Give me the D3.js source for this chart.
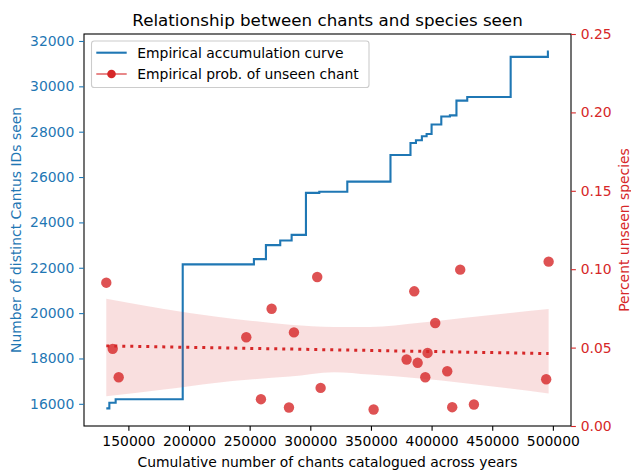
<!DOCTYPE html>
<html>
<head>
<meta charset="utf-8">
<script src="https://cdn.jsdelivr.net/npm/d3@7"></script>
<style>
  html, body { margin: 0; padding: 0; background: #fff; }
  svg { display: block; font-family: "DejaVu Sans", sans-serif; }
</style>
</head>
<body>
<svg id="chart" width="631" height="470"></svg>
<script>
// ---- Data ----
// Empirical accumulation curve (step function: value holds from x until next x)
const stepX = [131800, 134300, 139500, 194800, 253500, 263400, 275200, 284600, 296400, 307400,
               330500, 366100, 382600, 387100, 392000, 395900, 400000, 408000, 415100, 420500,
               429400, 465200, 495900, 496700];
const stepY = [15800, 16050, 16200, 22150, 22380, 23000, 23200, 23450, 25300, 25350,
               25800, 26970, 27500, 27620, 27800, 27900, 28320, 28670, 28720, 29370,
               29530, 31300, 31530, 31530];

// Empirical probability of an unseen chant (scatter)
const probX = [131780, 137060, 142000, 247200, 259300, 268100, 282400, 286500, 305700, 308500,
               352200, 379400, 385700, 388500, 394800, 396700, 403000, 412900, 417000, 423600,
               434900, 494500, 496500];
const probY = [0.0914, 0.0492, 0.0311, 0.0566, 0.0171, 0.0748, 0.0118, 0.0597, 0.0950, 0.0243,
               0.0105, 0.0424, 0.0859, 0.0403, 0.0311, 0.0466, 0.0657, 0.0349, 0.0120, 0.0997,
               0.0137, 0.0298, 0.1048];

// Regression line and confidence band
const fitX = [131780, 496500];
const fitY = [0.0511, 0.0462];
const ciX    = [131780, 179350, 221390, 250250, 283220, 319500, 349170, 390380, 425830, 496500];
const ciHigh = [0.0812, 0.0746, 0.0699, 0.0672, 0.0646, 0.0632, 0.0632, 0.0659, 0.0689, 0.0746];
const ciLow  = [0.0190, 0.0232, 0.0275, 0.0296, 0.0315, 0.0343, 0.0328, 0.0303, 0.0275, 0.0207];

const xTicks = [150000, 200000, 250000, 300000, 350000, 400000, 450000, 500000];
const yLeftTicks = [16000, 18000, 20000, 22000, 24000, 26000, 28000, 30000, 32000];
const yRightTicks = [0.00, 0.05, 0.10, 0.15, 0.20, 0.25];

const title = "Relationship between chants and species seen";
const xLabel = "Cumulative number of chants catalogued across years";
const yLeftLabel = "Number of distinct Cantus IDs seen";
const yRightLabel = "Percent unseen species";
const legendLabels = ["Empirical accumulation curve", "Empirical prob. of unseen chant"];

// ---- Layout ----
const L = 84, R = 571, T = 34, B = 426;
const BLUE = "#1f77b4", RED = "#d62728";
const FS = 13.9;
const TICK = 4.86, PAD = 4.86;

const svg = d3.select("#chart");

const x = d3.scaleLinear().domain([113400, 514950]).range([L, R]);
const yL = d3.scaleLinear().domain([15022, 32308]).range([B, T]);
const yR = d3.scaleLinear().domain([0, 0.25]).range([B, T]);

const plot = svg.append("g");

// Step curve (left axis)
const stepData = stepX.map((d, i) => [d, stepY[i]]);
plot.append("path")
  .datum(stepData)
  .attr("fill", "none")
  .attr("stroke", BLUE)
  .attr("stroke-width", 2.1)
  .attr("d", d3.line().x(d => x(d[0])).y(d => yL(d[1])).curve(d3.curveStepAfter));

// Scatter points (right axis)
plot.append("g").selectAll("circle")
  .data(probX.map((d, i) => [d, probY[i]]))
  .join("circle")
  .attr("cx", d => x(d[0]))
  .attr("cy", d => yR(d[1]))
  .attr("r", 5.2)
  .attr("fill", RED)
  .attr("fill-opacity", 0.8);

// Confidence band
const ciData = ciX.map((d, i) => [d, ciLow[i], ciHigh[i]]);
plot.append("path")
  .datum(ciData)
  .attr("fill", RED)
  .attr("fill-opacity", 0.15)
  .attr("stroke", "none")
  .attr("d", d3.area().x(d => x(d[0])).y0(d => yR(d[1])).y1(d => yR(d[2])).curve(d3.curveMonotoneX));

// Regression line
plot.append("path")
  .datum(fitX.map((d, i) => [d, fitY[i]]))
  .attr("fill", "none")
  .attr("stroke", RED)
  .attr("stroke-width", 3)
  .attr("stroke-dasharray", "3,5")
  .attr("d", d3.line().x(d => x(d[0])).y(d => yR(d[1])));

// Frame
svg.append("rect")
  .attr("x", L).attr("y", T).attr("width", R - L).attr("height", B - T)
  .attr("fill", "none").attr("stroke", "#000").attr("stroke-width", 1.1);

function styleAxis(g, color, textColor) {
  g.select(".domain").remove();
  g.selectAll(".tick line").attr("stroke", color).attr("stroke-width", 1.1);
  g.selectAll(".tick text").attr("fill", textColor)
    .style("font-size", FS + "px").style("font-family", "DejaVu Sans, sans-serif");
}

// Bottom axis
svg.append("g")
  .attr("transform", `translate(0,${B})`)
  .call(d3.axisBottom(x).tickValues(xTicks).tickFormat(d3.format("d")).tickSize(TICK).tickPadding(PAD))
  .call(g => styleAxis(g, "#000", "#000"));

// Left axis
svg.append("g")
  .attr("transform", `translate(${L},0)`)
  .call(d3.axisLeft(yL).tickValues(yLeftTicks).tickFormat(d3.format("d")).tickSize(TICK).tickPadding(PAD))
  .call(g => styleAxis(g, BLUE, BLUE));

// Right axis
svg.append("g")
  .attr("transform", `translate(${R},0)`)
  .call(d3.axisRight(yR).tickValues(yRightTicks).tickFormat(d3.format(".2f")).tickSize(TICK).tickPadding(PAD))
  .call(g => styleAxis(g, RED, RED));

// Title and labels
svg.append("text")
  .attr("x", (L + R) / 2).attr("y", 25.5)
  .attr("text-anchor", "middle")
  .style("font-size", "16.7px").attr("fill", "#000")
  .text(title);

svg.append("text")
  .attr("x", (L + R) / 2).attr("y", 467)
  .attr("text-anchor", "middle")
  .style("font-size", FS + "px").attr("fill", "#000")
  .text(xLabel);

svg.append("text")
  .attr("transform", `translate(21,${(T + B) / 2}) rotate(-90)`)
  .attr("text-anchor", "middle")
  .style("font-size", FS + "px").attr("fill", BLUE)
  .text(yLeftLabel);

svg.append("text")
  .attr("transform", `translate(629,${(T + B) / 2}) rotate(-90)`)
  .attr("text-anchor", "middle")
  .style("font-size", FS + "px").attr("fill", RED)
  .text(yRightLabel);

// Legend
const lg = svg.append("g");
lg.append("rect")
  .attr("x", 91.5).attr("y", 41).attr("width", 277.5).attr("height", 46.5)
  .attr("rx", 2.8).attr("ry", 2.8)
  .attr("fill", "#fff").attr("fill-opacity", 0.8)
  .attr("stroke", "#cccccc").attr("stroke-width", 1.1);

const legY = [52.7, 74];
lg.append("line")
  .attr("x1", 96.3).attr("x2", 126.7).attr("y1", legY[0]).attr("y2", legY[0])
  .attr("stroke", BLUE).attr("stroke-width", 2.1);
lg.append("line")
  .attr("x1", 96.3).attr("x2", 126.7).attr("y1", legY[1]).attr("y2", legY[1])
  .attr("stroke", RED).attr("stroke-width", 1.1);
lg.append("circle")
  .attr("cx", 111.5).attr("cy", legY[1]).attr("r", 4.3)
  .attr("fill", RED);
legendLabels.forEach((t, i) => {
  lg.append("text")
    .attr("x", 137.3).attr("y", legY[i]).attr("dy", "0.36em")
    .style("font-size", FS + "px").attr("fill", "#000")
    .text(t);
});
</script>
</body>
</html>
